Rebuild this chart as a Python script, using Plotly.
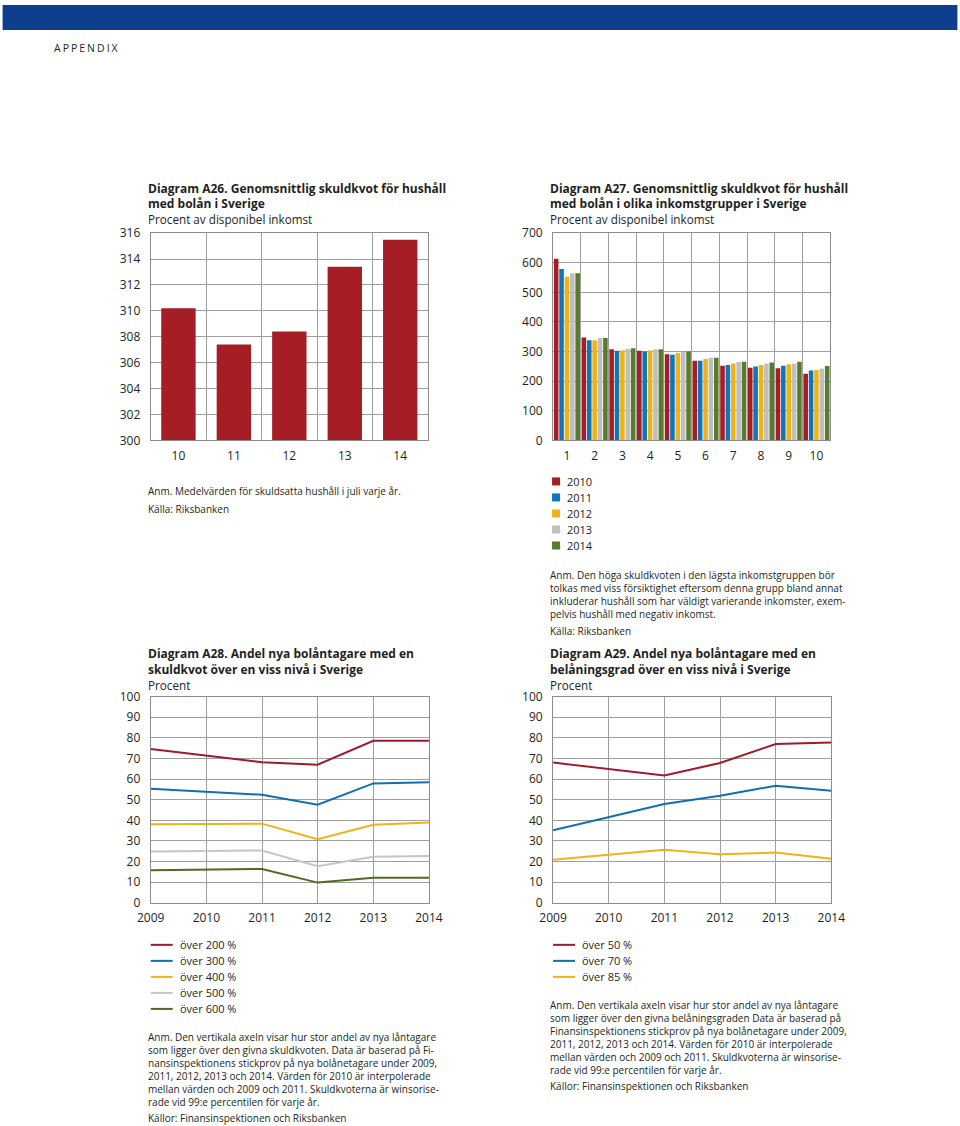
import plotly.graph_objects as go

W, H = 960, 1126
FONT = "Open Sans"
TXT = "#231f20"

# ---------------- data ----------------
a26_years = ["10", "11", "12", "13", "14"]
a26_values = [310.2, 307.4, 308.4, 313.4, 315.5]

a27_groups = [1, 2, 3, 4, 5, 6, 7, 8, 9, 10]
a27_2010 = [614, 348, 308, 303, 291, 269, 252, 245, 244, 225]
a27_2011 = [579, 338, 303, 300, 289, 269, 255, 250, 252, 236]
a27_2012 = [553, 338, 304, 304, 295, 275, 260, 255, 257, 238]
a27_2013 = [565, 346, 309, 308, 299, 279, 265, 259, 259, 242]
a27_2014 = [565, 346, 311, 308, 300, 279, 266, 263, 266, 251]
a27_labels = ["2010", "2011", "2012", "2013", "2014"]

years = [2009, 2010, 2011, 2012, 2013, 2014]
a28_200 = [74.6, 71.4, 68.2, 67.0, 78.6, 78.6]
a28_300 = [55.3, 53.9, 52.4, 47.6, 57.9, 58.5]
a28_400 = [38.1, 38.2, 38.4, 30.9, 37.9, 38.9]
a28_500 = [24.9, 25.1, 25.4, 17.7, 22.3, 22.7]
a28_600 = [15.8, 16.1, 16.4, 9.8, 12.1, 12.1]
a28_labels = ["över 200 %", "över 300 %", "över 400 %", "över 500 %", "över 600 %"]

a29_50 = [68.0, 65.0, 61.7, 67.8, 77.0, 77.8]
a29_70 = [35.2, 41.6, 47.9, 51.9, 56.8, 54.3]
a29_85 = [20.9, 23.3, 25.7, 23.5, 24.4, 21.4]
a29_labels = ["över 50 %", "över 70 %", "över 85 %"]

bar_colors = ["#a51d25", "#0f76ba", "#efb31a", "#bfbfbf", "#587b2d"]
line_colors = ["#9e1a2c", "#0f70b1", "#ecb41a", "#c6c6c6", "#4f6b22"]

a26_title = ["Diagram A26. Genomsnittlig skuldkvot för hushåll", "med bolån i Sverige"]
a26_sub = "Procent av disponibel inkomst"
a26_notes = ["Anm. Medelvärden för skuldsatta hushåll i juli varje år.", "Källa: Riksbanken"]

a27_title = ["Diagram A27. Genomsnittlig skuldkvot för hushåll", "med bolån i olika inkomstgrupper i Sverige"]
a27_sub = "Procent av disponibel inkomst"
a27_notes = ["Anm. Den höga skuldkvoten i den lägsta inkomstgruppen bör",
             "tolkas med viss försiktighet eftersom denna grupp bland annat",
             "inkluderar hushåll som har väldigt varierande inkomster, exem-",
             "pelvis hushåll med negativ inkomst."]
a27_source = "Källa: Riksbanken"

a28_title = ["Diagram A28. Andel nya bolåntagare med en", "skuldkvot över en viss nivå i Sverige"]
a28_sub = "Procent"
a28_notes = ["Anm. Den vertikala axeln visar hur stor andel av nya låntagare",
             "som ligger över den givna skuldkvoten. Data är baserad på Fi-",
             "nansinspektionens stickprov på nya bolånetagare under 2009,",
             "2011, 2012, 2013 och 2014. Värden för 2010 är interpolerade",
             "mellan värden och 2009 och 2011. Skuldkvoterna är winsorise-",
             "rade vid 99:e percentilen för varje år."]
a28_source = "Källor: Finansinspektionen och Riksbanken"

a29_title = ["Diagram A29. Andel nya bolåntagare med en", "belåningsgrad över en viss nivå i Sverige"]
a29_sub = "Procent"
a29_notes = ["Anm. Den vertikala axeln visar hur stor andel av nya låntagare",
             "som ligger över den givna belåningsgraden Data är baserad på",
             "Finansinspektionens stickprov på nya bolånetagare under 2009,",
             "2011, 2012, 2013 och 2014. Värden för 2010 är interpolerade",
             "mellan värden och 2009 och 2011. Skuldkvoterna är winsorise-",
             "rade vid 99:e percentilen för varje år."]
a29_source = "Källor: Finansinspektionen och Riksbanken"

# layout compensation (positions are given in target-picture pixels)
SX, SY = 0.97, 0.984
CX, CY = 480, 563


def px(x):
    return (CX + (x - CX) / SX) / W


def py(y):
    return 1 - (CY + (y - CY) / SY) / H


fig = go.Figure()

# A26
fig.add_trace(go.Bar(x=list(range(len(a26_years))), y=a26_values, marker=dict(color=bar_colors[0], line=dict(width=0)),
                     width=0.62, xaxis="x", yaxis="y", showlegend=False))
# A27
for vals, lab, col in zip([a27_2010, a27_2011, a27_2012, a27_2013, a27_2014], a27_labels, bar_colors):
    fig.add_trace(go.Bar(x=a27_groups, y=vals, name=lab, marker=dict(color=col, line=dict(width=0)),
                         xaxis="x2", yaxis="y2", showlegend=False))
# A28
for vals, lab, col in zip([a28_200, a28_300, a28_400, a28_500, a28_600], a28_labels, line_colors):
    fig.add_trace(go.Scatter(x=years, y=vals, name=lab, mode="lines", line=dict(color=col, width=2),
                             xaxis="x3", yaxis="y3", showlegend=False))
# A29
for vals, lab, col in zip([a29_50, a29_70, a29_85], a29_labels, line_colors):
    fig.add_trace(go.Scatter(x=years, y=vals, name=lab, mode="lines", line=dict(color=col, width=2),
                             xaxis="x4", yaxis="y4", showlegend=False))

GRID = "#9f9f9f"
FRAME = "#8c8c8c"
tickfont = dict(family=FONT, size=12, color=TXT)


def yax(domain, rng, dtick, anchor):
    return dict(domain=domain, range=rng, dtick=dtick, anchor=anchor, showgrid=True, gridcolor=GRID,
                gridwidth=1, zeroline=False, showline=True, linecolor=FRAME, linewidth=1, mirror=True,
                ticks="outside", ticklen=7, tickcolor="rgba(0,0,0,0)", tickfont=tickfont, fixedrange=True)


def xax(domain, rng, anchor, tickvals, ticktext, minor_vals=None):
    d = dict(domain=domain, range=rng, anchor=anchor, tickmode="array", tickvals=tickvals, ticktext=ticktext,
             zeroline=False, showline=True, linecolor=FRAME, linewidth=1, mirror=True,
             ticks="outside", ticklen=4, tickcolor="rgba(0,0,0,0)", tickfont=tickfont, fixedrange=True)
    if minor_vals is None:
        d.update(showgrid=True, gridcolor=GRID, gridwidth=1)
    else:
        d.update(showgrid=False, minor=dict(tickmode="array", tickvals=minor_vals, showgrid=True,
                                            gridcolor=GRID, gridwidth=1, ticks=""))
    return d


fig.update_layout(
    width=W, height=H, margin=dict(l=0, r=0, t=0, b=0), paper_bgcolor="white", plot_bgcolor="white",
    barmode="group", bargap=0.03, bargroupgap=0.15,
    font=dict(family=FONT, color=TXT),
    xaxis=xax([px(151), px(428)], [-0.5, 4.5], "y", list(range(5)), a26_years, [0.5, 1.5, 2.5, 3.5]),
    yaxis=yax([py(440), py(233)], [300, 316], 2, "x"),
    xaxis2=xax([px(553), px(830)], [0.5, 10.5], "y2", a27_groups, [str(g) for g in a27_groups],
               [1.5 + i for i in range(9)]),
    yaxis2=yax([py(440), py(233)], [0, 700], 100, "x2"),
    xaxis3=xax([px(151), px(429)], [2009, 2014], "y3", years, [str(y) for y in years]),
    yaxis3=yax([py(902), py(696)], [0, 100], 10, "x3"),
    xaxis4=xax([px(553), px(831)], [2009, 2014], "y4", years, [str(y) for y in years]),
    yaxis4=yax([py(902), py(696)], [0, 100], 10, "x4"),
)

shapes = []
ann = []


def text(x, y, s, size=12, bold=False, color=TXT):
    if bold:
        s = "<b>" + s + "</b>"
    ann.append(dict(x=px(x), y=py(y), xref="paper", yref="paper", text=s, showarrow=False,
                    xanchor="left", yanchor="middle", font=dict(family=FONT, size=size, color=color)))


# top band
shapes.append(dict(type="rect", xref="paper", yref="paper", x0=px(3), x1=px(957), y0=py(30), y1=py(5),
                   fillcolor="#0e3e8e", line=dict(width=0), layer="below"))
text(52, 48, '<span style="letter-spacing:2px">APPENDIX</span>', size=10.5)

# titles
for (tl, sub, x0, y0) in [(a26_title, a26_sub, 146, 188), (a27_title, a27_sub, 548, 188),
                          (a28_title, a28_sub, 146, 653), (a29_title, a29_sub, 548, 653)]:
    text(x0, y0, tl[0], size=12, bold=True)
    text(x0, y0 + 15.5, tl[1], size=12, bold=True)
    text(x0, y0 + 31, sub, size=11.7)

# A26 notes
text(146, 491, a26_notes[0], size=10)
text(146, 509, a26_notes[1], size=10)

# A27 legend
for i, (lab, col) in enumerate(zip(a27_labels, bar_colors)):
    yy = 481 + 16 * i
    shapes.append(dict(type="rect", xref="paper", yref="paper", x0=px(552), x1=px(560), y0=py(yy + 4),
                       y1=py(yy - 4), fillcolor=col, line=dict(width=0)))
    text(565, yy, lab, size=11)
for i, line in enumerate(a27_notes):
    text(548, 574 + 13 * i, line, size=10)
text(548, 630, a27_source, size=10)

# A28 legend
for i, (lab, col) in enumerate(zip(a28_labels, line_colors)):
    yy = 944 + 16 * i
    shapes.append(dict(type="line", xref="paper", yref="paper", x0=px(151), x1=px(173), y0=py(yy), y1=py(yy),
                       line=dict(color=col, width=2)))
    text(178, yy, lab, size=11)
for i, line in enumerate(a28_notes):
    text(146, 1036 + 13 * i, line, size=10)
text(146, 1117, a28_source, size=10)

# A29 legend
for i, (lab, col) in enumerate(zip(a29_labels, line_colors)):
    yy = 944 + 16 * i
    shapes.append(dict(type="line", xref="paper", yref="paper", x0=px(553), x1=px(575), y0=py(yy), y1=py(yy),
                       line=dict(color=col, width=2)))
    text(580, yy, lab, size=11)
for i, line in enumerate(a29_notes):
    text(548, 1004 + 13 * i, line, size=10)
text(548, 1085, a29_source, size=10)

fig.update_layout(shapes=shapes, annotations=ann)
fig.write_html("out.html", config={"displayModeBar": False},
               post_script="document.body.style.margin='0';document.body.style.overflow='hidden';")
